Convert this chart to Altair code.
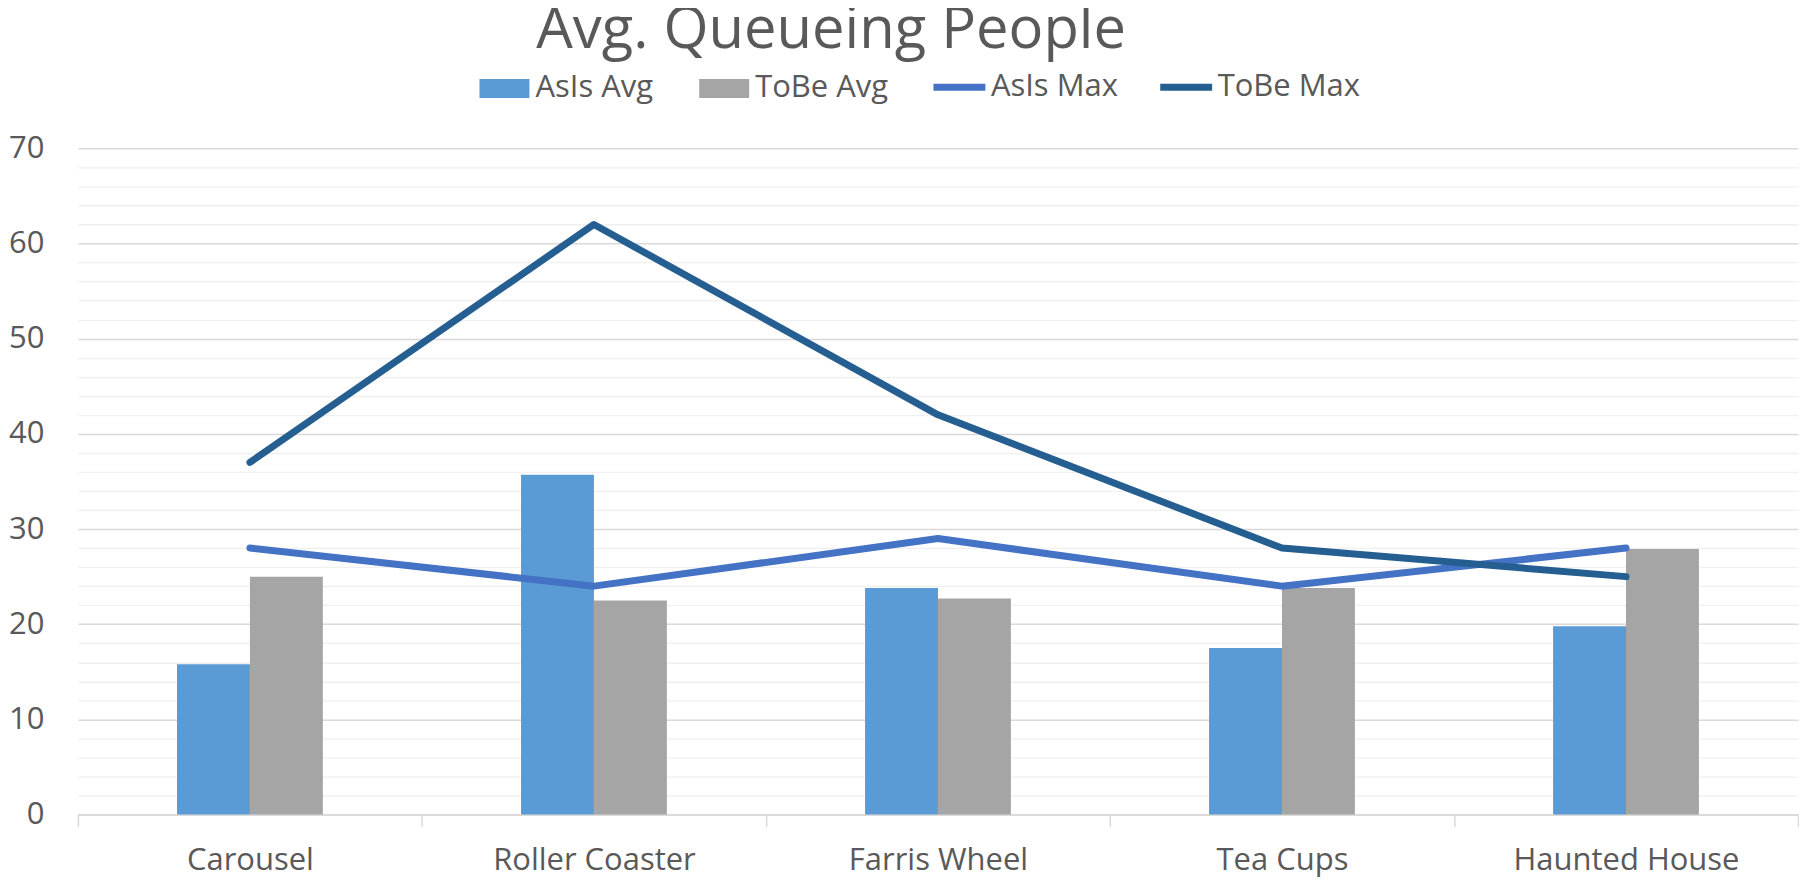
import altair as alt
import pandas as pd

categories = ["Carousel", "Roller Coaster", "Farris Wheel", "Tea Cups", "Haunted House"]
asis_avg = [15.8, 35.7, 23.8, 17.5, 19.8]
tobe_avg = [25.0, 22.5, 22.7, 23.8, 27.9]
asis_max = [28, 24, 29, 24, 28]
tobe_max = [37, 62, 42, 28, 25]

bar_series = ["AsIs Avg", "ToBe Avg"]
line_series = ["AsIs Max", "ToBe Max"]

bars_df = pd.DataFrame(
    [{"cat": c, "series": "AsIs Avg", "value": v} for c, v in zip(categories, asis_avg)]
    + [{"cat": c, "series": "ToBe Avg", "value": v} for c, v in zip(categories, tobe_avg)]
)
lines_df = pd.DataFrame(
    [{"cat": c, "series": "AsIs Max", "value": v} for c, v in zip(categories, asis_max)]
    + [{"cat": c, "series": "ToBe Max", "value": v} for c, v in zip(categories, tobe_max)]
)

FONT = "Open Sans"
TXT = "#595959"
PLOT_W = 1722
BAND = PLOT_W / len(categories)
BAR_W = 73

x_enc = alt.X(
    "cat:N",
    sort=categories,
    title=None,
    scale=alt.Scale(paddingInner=0, paddingOuter=0),
    axis=alt.Axis(
        labelAngle=0,
        labelFontSize=31,
        labelFont=FONT,
        labelColor=TXT,
        labelPadding=19,
        labelLimit=0,
        tickBand="extent",
        tickSize=12,
        tickColor="#d9d9d9",
        tickWidth=1.5,
        domainColor="#d9d9d9",
        domainWidth=1.5,
        grid=False,
    ),
)

y_enc = alt.Y(
    "value:Q",
    title=None,
    scale=alt.Scale(domain=[0, 70], nice=False),
    axis=alt.Axis(
        values=list(range(0, 71, 2)),
        tickCount=100,
        format="d",
        labelExpr="datum.value % 10 === 0 ? datum.label : ''",
        labelFontSize=31,
        labelFont=FONT,
        labelColor=TXT,
        labelPadding=34,
        labelOverlap=False,
        labelFlush=False,
        ticks=False,
        domain=False,
        gridColor={"condition": {"test": "datum.value % 10 === 0", "value": "#d9d9d9"}, "value": "#f0f0f0"},
        gridWidth={"condition": {"test": "datum.value % 10 === 0", "value": 1.5}, "value": 1.3},
    ),
)

bars = alt.Chart(bars_df).mark_bar().encode(
    x=x_enc,
    y=y_enc,
    xOffset=alt.XOffset(
        "series:N",
        sort=bar_series,
        scale=alt.Scale(paddingInner=0, paddingOuter=0, range=[BAND / 2 - BAR_W, BAND / 2 + BAR_W]),
    ),
    color=alt.Color(
        "series:N",
        sort=bar_series,
        scale=alt.Scale(domain=bar_series, range=["#5b9bd5", "#a5a5a5"]),
        legend=alt.Legend(
            title=None,
            orient="none",
            direction="horizontal",
            legendX=402,
            legendY=-85,
            symbolType="M-1,-0.38H1V0.38H-1Z",
            symbolSize=2500,
            symbolStrokeWidth=0,
            labelFontSize=31,
            labelFont=FONT,
            labelColor=TXT,
            labelOffset=6,
            columnPadding=46,
            padding=0,
        ),
    ),
)

lines = alt.Chart(lines_df).mark_line(strokeWidth=7, strokeCap="round", strokeJoin="round").encode(
    x=alt.X("cat:N", sort=categories),
    y=alt.Y("value:Q"),
    stroke=alt.Stroke(
        "series:N",
        sort=line_series,
        scale=alt.Scale(domain=line_series, range=["#4472c4", "#255e91"]),
        legend=alt.Legend(
            title=None,
            orient="none",
            direction="horizontal",
            legendX=853,
            legendY=-91,
            symbolType="stroke",
            symbolSize=2700,
            symbolStrokeWidth=7,
            labelFontSize=31,
            labelFont=FONT,
            labelColor=TXT,
            labelOffset=2,
            columnPadding=27,
            padding=0,
        ),
    ),
)

chart = (
    alt.layer(bars, lines)
    .properties(
        width=PLOT_W,
        height=667,
        padding={"top": -6, "left": 0, "right": 0, "bottom": 3},
        background="white",
        title=alt.TitleParams(
            "Avg. Queueing People",
            fontSize=58,
            font=FONT,
            fontWeight="normal",
            color=TXT,
            anchor="middle",
            dx=-107,
            offset=-3,
        ),
    )
    .configure_view(stroke=None)
)

chart.save("out.html", embed_options={"renderer": "svg", "actions": False})
